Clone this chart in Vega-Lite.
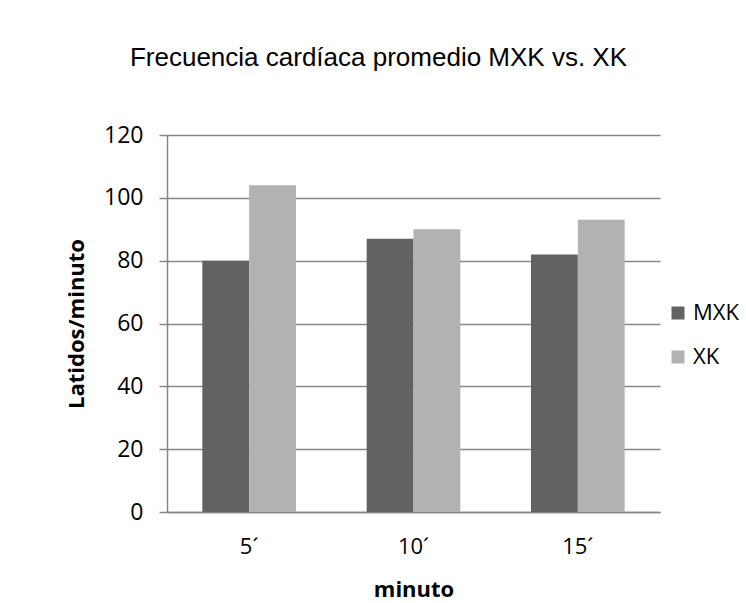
{
  "$schema": "https://vega.github.io/schema/vega-lite/v6.json",
  "width": 493,
  "height": 377,
  "autosize": {"type": "none"},
  "padding": {"left": 167, "top": 135, "right": 86, "bottom": 91},
  "background": "white",
  "title": {
    "text": "Frecuencia cardíaca promedio MXK vs. XK",
    "font": "Liberation Sans",
    "fontSize": 26,
    "fontWeight": "normal",
    "color": "black",
    "anchor": "middle",
    "baseline": "alphabetic",
    "offset": 32,
    "dx": -35
  },
  "data": {
    "values": [
      {"minuto": "5´", "serie": "MXK", "valor": 80},
      {"minuto": "5´", "serie": "XK", "valor": 104},
      {"minuto": "10´", "serie": "MXK", "valor": 87},
      {"minuto": "10´", "serie": "XK", "valor": 90},
      {"minuto": "15´", "serie": "MXK", "valor": 82},
      {"minuto": "15´", "serie": "XK", "valor": 93}
    ]
  },
  "mark": {"type": "bar"},
  "encoding": {
    "x": {
      "field": "minuto",
      "type": "nominal",
      "sort": ["5´", "10´", "15´"],
      "scale": {"paddingInner": 0.43, "paddingOuter": 0.215},
      "axis": {
        "title": "minuto",
        "titleFont": "Open Sans",
        "titleFontSize": 22,
        "titleFontWeight": "bold",
        "titleColor": "black",
        "titlePadding": 22,
        "labelAngle": 0,
        "labelFont": "Open Sans",
        "labelFontSize": 22,
        "labelColor": "black",
        "labelPadding": 24,
        "ticks": false,
        "domainColor": "#868686",
        "domainWidth": 1.5,
        "grid": false
      }
    },
    "xOffset": {"field": "serie", "type": "nominal", "sort": ["MXK", "XK"], "scale": {"paddingInner": 0, "paddingOuter": 0}},
    "y": {
      "field": "valor",
      "type": "quantitative",
      "scale": {"domain": [0, 120], "nice": false},
      "axis": {
        "title": "Latidos/minuto",
        "titleFont": "Open Sans",
        "titleFontSize": 22,
        "titleFontWeight": "bold",
        "titleColor": "black",
        "titlePadding": 15,
        "values": [0, 20, 40, 60, 80, 100, 120],
        "labelFont": "Open Sans",
        "labelFontSize": 23,
        "labelColor": "black",
        "labelPadding": 16,
        "tickSize": 8,
        "tickColor": "#868686",
        "tickWidth": 1.5,
        "domainColor": "#868686",
        "domainWidth": 1.5,
        "gridColor": "#868686",
        "gridWidth": 1.5
      }
    },
    "color": {
      "field": "serie",
      "type": "nominal",
      "sort": ["MXK", "XK"],
      "scale": {"domain": ["MXK", "XK"], "range": ["#626262", "#b2b2b2"]},
      "legend": {
        "title": null,
        "orient": "none",
        "legendX": 500,
        "legendY": 167,
        "symbolType": "square",
        "symbolSize": 169,
        "symbolStrokeWidth": 0,
        "labelFont": "Open Sans",
        "labelFontSize": 22,
        "labelColor": "black",
        "labelOffset": 4,
        "rowPadding": 22
      }
    }
  },
  "config": {
    "view": {"stroke": null}
  }
}
